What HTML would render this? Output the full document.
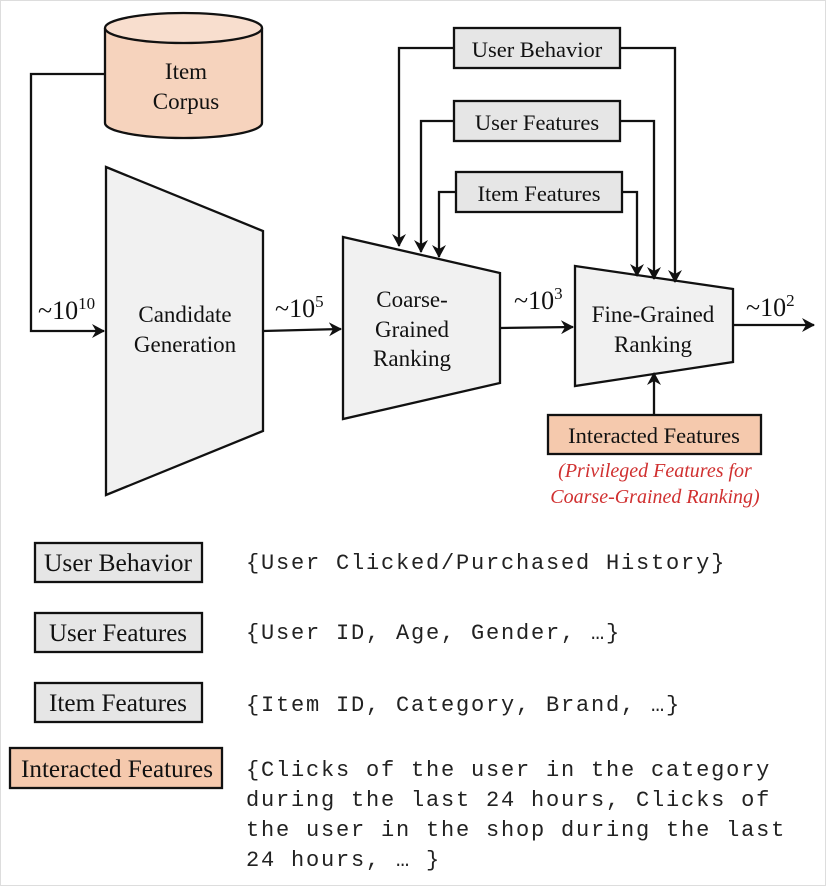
<!DOCTYPE html>
<html><head><meta charset="utf-8"><style>
html,body{margin:0;padding:0;background:#fff;}
svg{display:block;}
.s{font-family:"Liberation Serif",serif;fill:#111;}
.m{font-family:"Liberation Mono",monospace;fill:#222;font-size:22px;letter-spacing:1.8px;}
</style></head><body>
<svg width="826" height="886" viewBox="0 0 826 886" xmlns="http://www.w3.org/2000/svg">
<defs>
<marker id="a" markerWidth="14" markerHeight="14" refX="12" refY="7" orient="auto" markerUnits="userSpaceOnUse">
<path d="M0,0 L13,7 L0,14 L4,7 Z" fill="#111"/>
</marker>
</defs>
<rect x="0.5" y="0.5" width="825" height="885" fill="none" stroke="#ddd"/>
<g stroke="#111" stroke-width="2.3" fill="none">
<path d="M105,28 L105,123 A78.5,15 0 0 0 262,123 L262,28" fill="#f6d3bd"/>
<ellipse cx="183.5" cy="28" rx="78.5" ry="15" fill="#f8dece"/>
<path d="M105,74 L31,74 L31,331 L104,331" marker-end="url(#a)"/>
<polygon points="106,167 263,231 263,431 106,495" fill="#f1f1f1"/>
<polygon points="343,237 500,273 500,383 343,419" fill="#f1f1f1"/>
<polygon points="575,266 733,289 733,362 575,386" fill="#f1f1f1"/>
<path d="M263,331 L341,329" marker-end="url(#a)"/>
<path d="M500,328 L573,327" marker-end="url(#a)"/>
<path d="M733,325 L814,325" marker-end="url(#a)"/>
<rect x="454" y="28" width="166" height="40" fill="#e6e6e6"/>
<rect x="454" y="101" width="166" height="40" fill="#e6e6e6"/>
<rect x="456" y="172" width="166" height="40" fill="#e6e6e6"/>
<path d="M454,48 L399,48 L399,246" marker-end="url(#a)"/>
<path d="M454,121 L421,121 L421,252" marker-end="url(#a)"/>
<path d="M456,192 L439,192 L439,257" marker-end="url(#a)"/>
<path d="M620,48 L675,48 L675,282" marker-end="url(#a)"/>
<path d="M620,121 L654,121 L654,279" marker-end="url(#a)"/>
<path d="M622,192 L637,192 L637,276" marker-end="url(#a)"/>
<rect x="548" y="415" width="213" height="39" fill="#f5c9ad"/>
<path d="M654,415 L654,373" marker-end="url(#a)"/>
<rect x="35" y="543" width="167" height="39" fill="#e6e6e6"/>
<rect x="35" y="613" width="167" height="39" fill="#e6e6e6"/>
<rect x="35" y="683" width="167" height="39" fill="#e6e6e6"/>
<rect x="10" y="748" width="212" height="40" fill="#f5c9ad"/>
</g>
<g class="s" font-size="23" text-anchor="middle">
<text x="186" y="79">Item</text>
<text x="186" y="109">Corpus</text>
<text x="185" y="322">Candidate</text>
<text x="185" y="352">Generation</text>
<text x="412" y="307">Coarse-</text>
<text x="412" y="337">Grained</text>
<text x="412" y="366">Ranking</text>
<text x="653" y="322">Fine-Grained</text>
<text x="653" y="352">Ranking</text>
<text x="537" y="57" font-size="22.5">User Behavior</text>
<text x="537" y="130" font-size="22.5">User Features</text>
<text x="539" y="201" font-size="22.5">Item Features</text>
<text x="654" y="443" font-size="22.5">Interacted Features</text>
<text x="118" y="571" textLength="148" lengthAdjust="spacingAndGlyphs" font-size="25">User Behavior</text>
<text x="118" y="641" textLength="138" lengthAdjust="spacingAndGlyphs" font-size="25">User Features</text>
<text x="118" y="711" textLength="138" lengthAdjust="spacingAndGlyphs" font-size="25">Item Features</text>
<text x="117" y="777" textLength="192" lengthAdjust="spacingAndGlyphs" font-size="25">Interacted Features</text>
</g>
<g class="s" font-size="26">
<text x="38" y="319">~10<tspan font-size="17" dy="-10">10</tspan></text>
<text x="275" y="317">~10<tspan font-size="17" dy="-10">5</tspan></text>
<text x="514" y="309">~10<tspan font-size="17" dy="-10">3</tspan></text>
<text x="746" y="316">~10<tspan font-size="17" dy="-10">2</tspan></text>
</g>
<g font-family="Liberation Serif,serif" font-style="italic" font-size="20" fill="#d03030" text-anchor="middle">
<text x="655" y="477">(Privileged Features for</text>
<text x="655" y="503">Coarse-Grained Ranking)</text>
</g>
<g class="m">
<text x="246" y="569">{User Clicked/Purchased History}</text>
<text x="246" y="639">{User ID, Age, Gender, …}</text>
<text x="246" y="711">{Item ID, Category, Brand, …}</text>
<text x="246" y="776">{Clicks of the user in the category</text>
<text x="246" y="806">during the last 24 hours, Clicks of</text>
<text x="246" y="836">the user in the shop during the last</text>
<text x="246" y="866">24 hours, … }</text>
</g>
</svg>
</body></html>
